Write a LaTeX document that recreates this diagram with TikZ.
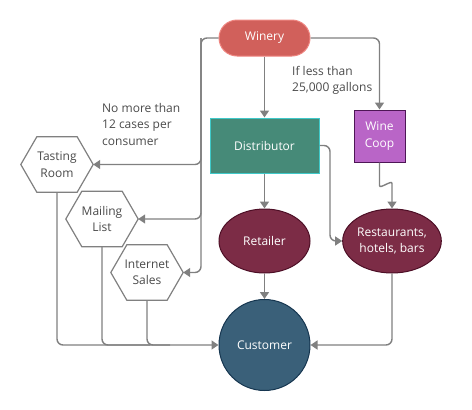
\documentclass[tikz,border=0pt]{standalone}
\usepackage{fontspec}
\setmainfont{Open Sans}
\usetikzlibrary{arrows.meta,shapes.geometric,calc}
\definecolor{linegray}{HTML}{808080}
\definecolor{wineryfill}{HTML}{D1605B}
\definecolor{winerydraw}{HTML}{EE8580}
\definecolor{distfill}{HTML}{468A78}
\definecolor{distdraw}{HTML}{3FC9C9}
\definecolor{coopfill}{HTML}{B965C7}
\definecolor{coopdraw}{HTML}{4E1656}
\definecolor{maroonfill}{HTML}{7C2C46}
\definecolor{maroondraw}{HTML}{4D0F26}
\definecolor{custfill}{HTML}{3A6079}
\definecolor{custdraw}{HTML}{163650}
\definecolor{textgray}{HTML}{4A4A4A}
\tikzset{
  base/.style={font=\fontsize{12}{16.5}\selectfont, align=center, inner sep=0pt},
  whitetext/.style={base, text=white},
  conn/.style={draw=linegray, line width=1.4pt, rounded corners=6pt, -{Triangle[length=7pt,width=9pt]}},
  plain/.style={draw=linegray, line width=1.4pt, rounded corners=6pt},
  hexbox/.style={base, text=textgray, minimum width=72pt, minimum height=55pt},
  note/.style={base, align=left, text=textgray, anchor=north west}
}
\newcommand{\hexdraw}[1]{%
  \draw[draw=linegray, line width=1.2pt, fill=white]
    (#1.west) -- ([xshift=16pt]#1.north west) -- ([xshift=-16pt]#1.north east)
    -- (#1.east) -- ([xshift=-16pt]#1.south east) -- ([xshift=16pt]#1.south west) -- cycle;}
\begin{document}
\begin{tikzpicture}[x=1pt,y=-1pt]
\useasboundingbox (0,0) rectangle (472,410);
% nodes
\node[whitetext, fill=wineryfill, draw=winerydraw, line width=1pt, rounded corners=18pt,
      minimum width=91pt, minimum height=36pt] (winery) at (264.5,38) {Winery};
\node[whitetext, fill=distfill, draw=distdraw, line width=1pt,
      minimum width=109pt, minimum height=55pt] (dist) at (264.5,145.5) {Distributor};
\node[whitetext, fill=coopfill, draw=coopdraw, line width=1pt,
      minimum width=51pt, minimum height=52pt] (coop) at (379.5,136) {Wine\\Coop};
\node[whitetext, ellipse, fill=maroonfill, draw=maroondraw, line width=1pt,
      minimum width=91pt, minimum height=64pt] (retail) at (264.5,241) {Retailer};
\node[whitetext, ellipse, fill=maroonfill, draw=maroondraw, line width=1pt,
      minimum width=92pt, minimum height=64pt] (rest) at (392,241) {Restaurants,\\hotels, bars};
\node[whitetext, circle, fill=custfill, draw=custdraw, line width=1pt,
      minimum size=91pt] (cust) at (264.5,345) {Customer};
\node[hexbox] (tast) at (57,164.5) {};
\node[hexbox] (mail) at (102,219) {};
\node[hexbox] (inet) at (147,272.5) {};
\hexdraw{tast}\hexdraw{mail}\hexdraw{inet}
\node[base, text=textgray] at (tast) {Tasting\\Room};
\node[base, text=textgray] at (mail) {Mailing\\List};
\node[base, text=textgray] at (inet) {Internet\\Sales};
% labels
\node[note] (n1) at (102,103) {No more than\\12 cases per\\consumer};
\node[note] (n2) at (292,66) {If less than\\25,000 gallons};
% connectors
\coordinate (trunk) at (201,38);
\draw[conn] (winery.south) -- (dist.north);
\draw[conn] (winery.east) -| (coop.north);
\draw[conn] (winery.west) -- (trunk) |- (tast.east);
\draw[conn] (trunk) |- (mail.east);
\draw[conn] (trunk) |- (inet.east);
\draw[conn] (dist.south) -- (retail.north);
\draw[conn] (dist.east) -| (330,241) -- (rest.west);
\draw[conn] (coop.south) -- ++(0,17) .. controls ++(0,10) and ++(0,-10) .. ($(rest.north)+(0,-19)$) -- (rest.north);
\draw[conn] (retail.south) -- (cust.north);
\draw[conn] (rest.south) |- (cust.east);
\draw[conn] (tast.south) |- (cust.west);
\draw[plain] (mail.south) |- (150,345);
\draw[plain] (inet.south) |- (170,345);
\end{tikzpicture}
\end{document}
